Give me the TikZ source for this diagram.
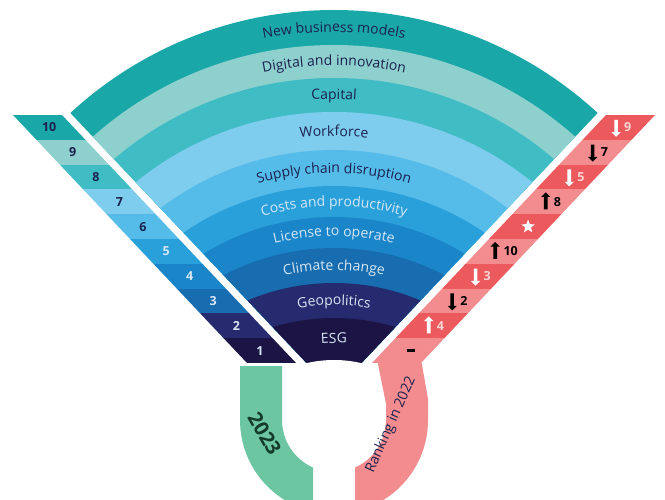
\documentclass[tikz,border=0pt]{standalone}
\usepackage{fontspec}
\setmainfont{Open Sans}
\usepackage{xcolor}
\definecolor{nbm}{RGB}{26,167,168}
\definecolor{digital}{RGB}{141,208,205}
\definecolor{capital}{RGB}{64,188,197}
\definecolor{workforce}{RGB}{127,205,238}
\definecolor{supply}{RGB}{85,188,234}
\definecolor{costs}{RGB}{42,160,218}
\definecolor{license}{RGB}{26,134,201}
\definecolor{climate}{RGB}{23,109,176}
\definecolor{geo}{RGB}{38,42,110}
\definecolor{esg}{RGB}{27,20,68}
\definecolor{rankred}{RGB}{236,90,94}
\definecolor{rankpink}{RGB}{243,140,143}
\definecolor{mint}{RGB}{109,198,162}
\definecolor{inkdark}{RGB}{28,33,80}
\definecolor{inklight}{RGB}{214,230,245}
\definecolor{inkpale}{RGB}{250,212,212}
\definecolor{inkgreen}{RGB}{20,58,43}
\usepackage{tikz}
\usetikzlibrary{decorations.text, shapes.geometric, shapes.arrows, positioning}
\newcommand{\bandfnt}{\fontsize{14}{16}\selectfont}
\tikzset{
  bandtext/.style={decorate, decoration={text along path, text align=center, text={#1}}},
  leftnum/.style={font=\fontsize{12.5}{14}\selectfont\bfseries, inner sep=0pt},
  rightnum/.style={font=\fontsize{12.5}{14}\selectfont\bfseries, inner sep=0pt},
  uparrow/.style={single arrow, shape border rotate=90, inner sep=1.6pt,
    minimum height=17pt, single arrow head extend=2.8pt},
  downarrow/.style={single arrow, shape border rotate=270, inner sep=1.6pt,
    minimum height=17pt, single arrow head extend=2.8pt},
  ringlabel/.style={inner sep=0pt}
}

\begin{document}
\begin{tikzpicture}[x=1pt, y=1pt]

  \useasboundingbox (0,0) rectangle (665,499);

  % fan of risks
  \begin{scope}
    \clip (334,107) -- (-44,507) -- (712,507) -- cycle;
    \fill[nbm]       (334,100) circle[radius=389];
    \fill[digital]   (334,91)  circle[radius=363];
    \fill[capital]   (334,82)  circle[radius=339];
    \fill[workforce] (334,72)  circle[radius=315];
    \fill[supply]    (334,61)  circle[radius=288];
    \fill[costs]     (334,47)  circle[radius=266];
    \fill[license]   (334,32)  circle[radius=250];
    \fill[climate]   (334,14)  circle[radius=237];
    \fill[geo]       (334,-6)  circle[radius=222];
    \fill[esg]       (334,-29) circle[radius=210];
  \end{scope}
  \fill[white] (334,19) circle[radius=120];

  \path[shift={(334,95.5)}, bandtext={|\color{inkdark}\bandfnt|New business models}]
    (120:371.5) arc[start angle=120, end angle=60, radius=371.5];
  \path[shift={(334,86.5)}, bandtext={|\color{inkdark}\bandfnt|Digital and innovation}]
    (120:347) arc[start angle=120, end angle=60, radius=347];
  \path[shift={(334,77)}, bandtext={|\color{inkdark}\bandfnt|Capital}]
    (120:323) arc[start angle=120, end angle=60, radius=323];
  \path[shift={(334,66.5)}, bandtext={|\color{inkdark}\bandfnt|Workforce}]
    (120:296.5) arc[start angle=120, end angle=60, radius=296.5];
  \path[shift={(334,54)}, bandtext={|\color{inkdark}\bandfnt|Supply chain disruption}]
    (125:272) arc[start angle=125, end angle=55, radius=272];
  \path[shift={(334,39.5)}, bandtext={|\color{inklight}\bandfnt|Costs and productivity}]
    (125:253.5) arc[start angle=125, end angle=55, radius=253.5];
  \path[shift={(334,23)}, bandtext={|\color{inklight}\bandfnt|License to operate}]
    (125:240) arc[start angle=125, end angle=55, radius=240];
  \path[shift={(334,4)}, bandtext={|\color{inklight}\bandfnt|Climate change}]
    (125:225) arc[start angle=125, end angle=55, radius=225];
  \path[shift={(334,-17.5)}, bandtext={|\color{inklight}\bandfnt|Geopolitics}]
    (125:211.5) arc[start angle=125, end angle=55, radius=211.5];
  \path[shift={(334,-29)}, bandtext={|\color{inklight}\bandfnt|ESG}]
    (125:185) arc[start angle=125, end angle=55, radius=185];

  % 2023 ranking strip
  \begin{scope}
    \clip (13,384) -- (62,384) -- (296,136) -- (247,136) -- cycle;
    \fill[nbm]       (0,359.2) rectangle (300,384);
    \fill[digital]   (0,334.4) rectangle (300,359.2);
    \fill[capital]   (0,309.6) rectangle (300,334.4);
    \fill[workforce] (0,284.8) rectangle (300,309.6);
    \fill[supply]    (0,260)   rectangle (300,284.8);
    \fill[costs]     (0,235.2) rectangle (300,260);
    \fill[license]   (0,210.4) rectangle (300,235.2);
    \fill[climate]   (0,185.6) rectangle (300,210.4);
    \fill[geo]       (0,160.8) rectangle (300,185.6);
    \fill[esg]       (0,136)   rectangle (300,160.8);
  \end{scope}

  \node[leftnum, text=inkdark]  (l10) at (49.2,371.6)  {10};
  \node[leftnum, text=inkdark]  (l9)  at (72.6,346.8)  {9};
  \node[leftnum, text=inkdark]  (l8)  at (96.0,322)    {8};
  \node[leftnum, text=inkdark]  (l7)  at (119.5,297.2) {7};
  \node[leftnum, text=inkdark]  (l6)  at (142.9,272.4) {6};
  \node[leftnum, text=inklight] (l5)  at (166.3,247.6) {5};
  \node[leftnum, text=inklight] (l4)  at (189.7,222.8) {4};
  \node[leftnum, text=inklight] (l3)  at (213.1,198)   {3};
  \node[leftnum, text=inklight] (l2)  at (236.5,173.2) {2};
  \node[leftnum, text=inklight] (l1)  at (259.9,148.4) {1};

  % 2022 ranking strip
  \begin{scope}
    \clip (655,384) -- (606,384) -- (372,136) -- (421,136) -- cycle;
    \fill[rankred]  (360,359.2) rectangle (670,384);
    \fill[rankpink] (360,334.4) rectangle (670,359.2);
    \fill[rankred]  (360,309.6) rectangle (670,334.4);
    \fill[rankpink] (360,284.8) rectangle (670,309.6);
    \fill[rankred]  (360,260)   rectangle (670,284.8);
    \fill[rankpink] (360,235.2) rectangle (670,260);
    \fill[rankred]  (360,210.4) rectangle (670,235.2);
    \fill[rankpink] (360,185.6) rectangle (670,210.4);
    \fill[rankred]  (360,160.8) rectangle (670,185.6);
    \fill[rankpink] (360,136)   rectangle (670,160.8);
  \end{scope}

  \node[downarrow, fill=white] (a9)  at (616.05,371.6) {};
  \node[rightnum, text=inkpale] (r9) at (627.8,371.6) {9};
  \node[downarrow, fill=black] (a7)  at (592.65,346.8) {};
  \node[rightnum, text=black]   (r7) at (604.4,346.8) {7};
  \node[downarrow, fill=white] (a5)  at (569.25,322) {};
  \node[rightnum, text=inkpale] (r5) at (581,322) {5};
  \node[uparrow, fill=black]   (a8)  at (545.75,297.2) {};
  \node[rightnum, text=black]   (r8) at (557.5,297.2) {8};
  \node[star, star points=5, star point ratio=2.3, fill=white, inner sep=0pt,
    minimum size=14pt] (rnew) at (528.1,272.4) {};
  \node[uparrow, fill=black]   (a10) at (495.2,247.6) {};
  \node[rightnum, text=black]   (r10) at (510.7,247.6) {10};
  \node[downarrow, fill=white] (a3)  at (475.55,222.8) {};
  \node[rightnum, text=inkpale] (r3) at (487.3,222.8) {3};
  \node[downarrow, fill=black] (a2)  at (452.15,198) {};
  \node[rightnum, text=black]   (r2) at (463.9,198) {2};
  \node[uparrow, fill=white]   (a4)  at (428.75,173.2) {};
  \node[rightnum, text=inkpale] (r4) at (440.5,173.2) {4};
  \node[fill=black, inner sep=0pt, minimum width=8pt, minimum height=3pt]
    (rdash) at (411.1,148.4) {};

  % year ring
  \begin{scope}
    \clip (200,0) rectangle (313,133);
    \fill[mint, even odd rule]
      (240,140) -- (240,79) arc[start angle=180, end angle=360, radius=94] -- (428,140) -- cycle
      (282,140) -- (282,79) arc[start angle=180, end angle=360, radius=52] -- (386,140) -- cycle;
  \end{scope}
  \begin{scope}
    \clip (355,0) rectangle (470,136);
    \fill[rankpink, even odd rule]
      (240,140) -- (240,79) arc[start angle=180, end angle=360, radius=94] -- (428,100) -- (421,140) -- cycle
      (282,140) -- (282,79) arc[start angle=180, end angle=360, radius=52] -- (386,95) -- (377,140) -- cycle;
  \end{scope}

  \node[ringlabel, rotate=-60, font=\fontsize{20}{22}\selectfont\bfseries, text=inkgreen]
    (yr) at (264.5,65.5) {2023};
  \node[ringlabel, rotate=66, font=\fontsize{14}{16}\selectfont, text=inkdark]
    (rank) at (391,74) {Ranking in 2022};

\end{tikzpicture}
\end{document}
